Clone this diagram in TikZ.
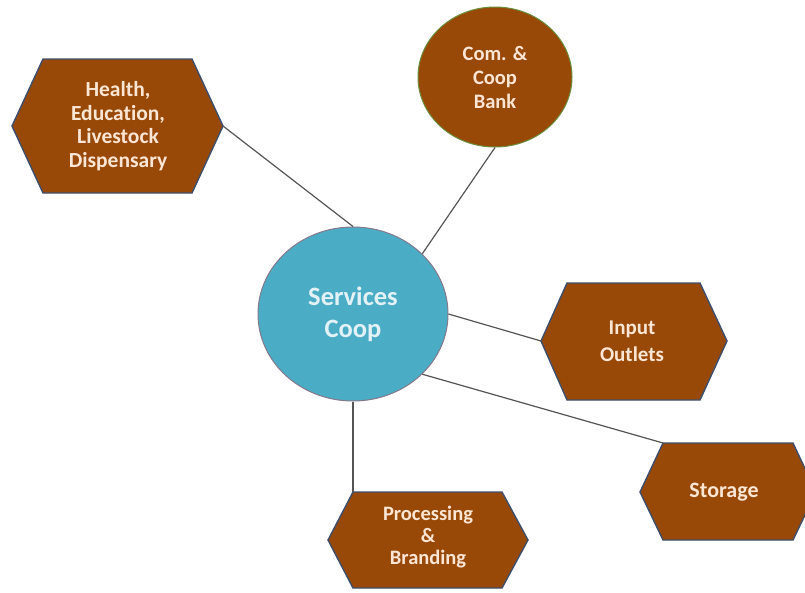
\documentclass[tikz,border=0pt]{standalone}
\usepackage{fontspec}
\setmainfont{Carlito}[Ligatures=NoCommon]
\usetikzlibrary{shapes.geometric}
\definecolor{hexfill}{HTML}{984807}
\definecolor{hexline}{HTML}{3E4F6C}
\definecolor{svcfill}{HTML}{4BACC6}
\definecolor{svcline}{HTML}{857A8C}
\definecolor{bankline}{HTML}{6A8E3A}
\definecolor{cream}{HTML}{FBE6D4}
\definecolor{ltcyan}{HTML}{E2F2F6}
\definecolor{conn}{HTML}{555555}
\tikzset{
  hexshape/.style={fill=hexfill, draw=hexline, line width=1.4pt, line join=miter},
  hextext/.style={text=cream, font=\bfseries, align=center, inner sep=0pt},
  connector/.style={draw=conn, line width=1.2pt},
}
\begin{document}
\begin{tikzpicture}[x=1pt,y=-1pt]
\clip (0,0) rectangle (805,592);
\fill[white] (0,0) rectangle (805,592);

% Health hexagon
\draw[hexshape] (12,126) -- (43,59) -- (192,59) -- (223,126) -- (192,193) -- (43,193) -- cycle;
\coordinate (healthR) at (223,126);
\node[hextext, font=\bfseries\fontsize{21.5}{23.5}\selectfont] (health) at (118,126) {Health,\\Education,\\Livestock\\Dispensary};

% Input outlets hexagon
\draw[hexshape] (541,341) -- (567,283) -- (700,283) -- (727,341) -- (700,400) -- (567,400) -- cycle;
\coordinate (inputL) at (541,341);
\node[hextext, font=\bfseries\fontsize{21}{27}\selectfont] (input) at (632,341) {Input\\Outlets};

% Storage hexagon
\draw[hexshape] (640,492) -- (663,443) -- (793,443) -- (816,492) -- (793,540) -- (663,540) -- cycle;
\coordinate (storageTL) at (663,443);
\node[hextext, font=\bfseries\fontsize{22}{25}\selectfont] (storage) at (724,492) {Storage};

% Processing hexagon
\draw[hexshape] (328,540) -- (353,492) -- (502,492) -- (528,540) -- (502,588) -- (353,588) -- cycle;
\coordinate (procT) at (353,492);
\node[hextext, font=\bfseries\fontsize{20.5}{22}\selectfont] (proc) at (428,537) {Processing\\\&\\Branding};

% Bank ellipse
\node[ellipse, fill=hexfill, draw=bankline, line width=1pt, minimum width=154pt, minimum height=140pt,
      text=cream, font=\bfseries\fontsize{20.5}{24}\selectfont, align=center, inner sep=0pt] (bank) at (495,77) {Com. \&\\Coop\\Bank};

% Services ellipse
\node[ellipse, fill=svcfill, draw=svcline, line width=1pt, minimum width=190pt, minimum height=174pt,
      text=ltcyan, font=\bfseries\fontsize{26.5}{32}\selectfont, align=center, inner sep=0pt] (svc) at (353,314) {Services\\Coop};

% Connectors
\draw[connector] (healthR) -- (svc.north);
\draw[connector] (bank.south) -- (svc.41.5);
\draw[connector] (svc.east) -- (inputL);
\draw[connector] (svc.-41.5) -- (storageTL);
\draw[connector] (svc.south) -- (procT);
\end{tikzpicture}
\end{document}
